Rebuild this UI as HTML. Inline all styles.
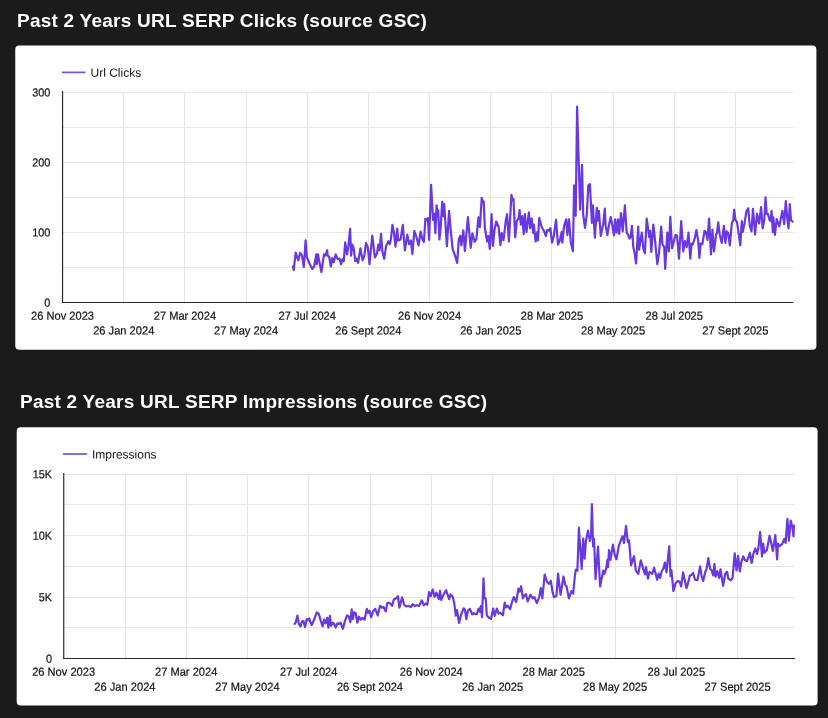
<!DOCTYPE html>
<html lang="en"><head><meta charset="utf-8"><title>URL SERP report</title>
<style>
html,body{margin:0;padding:0;background:#1b1b1b;}
body{width:828px;height:718px;position:relative;overflow:hidden;font-family:"Liberation Sans",Arial,sans-serif;}
h2{position:absolute;margin:0;color:#fff;font-weight:bold;font-size:19px;line-height:22px;white-space:nowrap;letter-spacing:0.24px;}
#t1{left:17px;top:10px;}
#t2{left:20px;top:391px;}
svg{position:absolute;left:0;top:0;}
.t{font:11.7px "Liberation Sans",Arial,sans-serif;fill:#141414;stroke:#141414;stroke-width:.22px;}
.l{font:12px "Liberation Sans",Arial,sans-serif;fill:#141414;}
</style></head><body>
<h2 id="t1">Past 2 Years URL SERP Clicks (source GSC)</h2>
<h2 id="t2">Past 2 Years URL SERP Impressions (source GSC)</h2>
<svg width="828" height="718" viewBox="0 0 828 718">
<rect x="15.25" y="45.55" width="801.15" height="304.3" rx="4" ry="4" fill="#fff"/>
<rect x="16.7" y="427.25" width="800.9" height="278.25" rx="4" ry="4" fill="#fff"/>
<g id="chart1">
<line x1="62.55" y1="92.50" x2="793.5" y2="92.50" stroke="#e6e6e6" stroke-width="1"/>
<line x1="62.55" y1="127.50" x2="793.5" y2="127.50" stroke="#e6e6e6" stroke-width="1"/>
<line x1="62.55" y1="162.50" x2="793.5" y2="162.50" stroke="#e6e6e6" stroke-width="1"/>
<line x1="62.55" y1="197.50" x2="793.5" y2="197.50" stroke="#e6e6e6" stroke-width="1"/>
<line x1="62.55" y1="232.50" x2="793.5" y2="232.50" stroke="#e6e6e6" stroke-width="1"/>
<line x1="62.55" y1="267.50" x2="793.5" y2="267.50" stroke="#e6e6e6" stroke-width="1"/>
<line x1="123.50" y1="92.20" x2="123.50" y2="302.50" stroke="#e6e6e6" stroke-width="1"/>
<line x1="184.50" y1="92.20" x2="184.50" y2="302.50" stroke="#e6e6e6" stroke-width="1"/>
<line x1="246.50" y1="92.20" x2="246.50" y2="302.50" stroke="#e6e6e6" stroke-width="1"/>
<line x1="307.50" y1="92.20" x2="307.50" y2="302.50" stroke="#e6e6e6" stroke-width="1"/>
<line x1="368.50" y1="92.20" x2="368.50" y2="302.50" stroke="#e6e6e6" stroke-width="1"/>
<line x1="429.50" y1="92.20" x2="429.50" y2="302.50" stroke="#e6e6e6" stroke-width="1"/>
<line x1="490.50" y1="92.20" x2="490.50" y2="302.50" stroke="#e6e6e6" stroke-width="1"/>
<line x1="551.50" y1="92.20" x2="551.50" y2="302.50" stroke="#e6e6e6" stroke-width="1"/>
<line x1="613.50" y1="92.20" x2="613.50" y2="302.50" stroke="#e6e6e6" stroke-width="1"/>
<line x1="674.50" y1="92.20" x2="674.50" y2="302.50" stroke="#e6e6e6" stroke-width="1"/>
<line x1="735.50" y1="92.20" x2="735.50" y2="302.50" stroke="#e6e6e6" stroke-width="1"/>
<line x1="62.55" y1="91.00" x2="62.55" y2="303.10" stroke="#2b2b2b" stroke-width="1.2"/>
<line x1="61.949999999999996" y1="302.50" x2="793.5" y2="302.50" stroke="#2b2b2b" stroke-width="1.2"/>
<text transform="translate(50.4,96.40) scale(0.93,1) rotate(0.03)" text-anchor="end" class="t">300</text>
<text transform="translate(50.4,166.50) scale(0.93,1) rotate(0.03)" text-anchor="end" class="t">200</text>
<text transform="translate(50.4,236.60) scale(0.93,1) rotate(0.03)" text-anchor="end" class="t">100</text>
<text transform="translate(50.4,306.70) scale(0.93,1) rotate(0.03)" text-anchor="end" class="t">0</text>
<text transform="translate(62.55,319.7) scale(0.95,1) rotate(0.03)" text-anchor="middle" class="t">26 Nov 2023</text>
<text transform="translate(123.72,334.4) scale(0.95,1) rotate(0.03)" text-anchor="middle" class="t">26 Jan 2024</text>
<text transform="translate(184.89,319.7) scale(0.95,1) rotate(0.03)" text-anchor="middle" class="t">27 Mar 2024</text>
<text transform="translate(246.06,334.4) scale(0.95,1) rotate(0.03)" text-anchor="middle" class="t">27 May 2024</text>
<text transform="translate(307.23,319.7) scale(0.95,1) rotate(0.03)" text-anchor="middle" class="t">27 Jul 2024</text>
<text transform="translate(368.40,334.4) scale(0.95,1) rotate(0.03)" text-anchor="middle" class="t">26 Sept 2024</text>
<text transform="translate(429.57,319.7) scale(0.95,1) rotate(0.03)" text-anchor="middle" class="t">26 Nov 2024</text>
<text transform="translate(490.74,334.4) scale(0.95,1) rotate(0.03)" text-anchor="middle" class="t">26 Jan 2025</text>
<text transform="translate(551.91,319.7) scale(0.95,1) rotate(0.03)" text-anchor="middle" class="t">28 Mar 2025</text>
<text transform="translate(613.08,334.4) scale(0.95,1) rotate(0.03)" text-anchor="middle" class="t">28 May 2025</text>
<text transform="translate(674.25,319.7) scale(0.95,1) rotate(0.03)" text-anchor="middle" class="t">28 Jul 2025</text>
<text transform="translate(735.42,334.4) scale(0.95,1) rotate(0.03)" text-anchor="middle" class="t">27 Sept 2025</text>
<line x1="62" y1="72.4" x2="85.5" y2="72.4" stroke="#6839e0" stroke-width="1.7" stroke-opacity="0.9"/>
<text transform="translate(90.5,76.7) rotate(0.03)" class="l">Url Clicks</text>
<polyline fill="none" stroke="#6839e0" stroke-width="2.2" stroke-linejoin="round" stroke-linecap="round" points="292.9,266.5 293.7,270.1 295.7,252.6 298.3,260.4 300.1,252.9 302.0,255.6 303.8,267.1 305.6,240.4 306.8,256.8 309.2,262.9 312.3,268.9 314.1,266.5 316.3,254.4 316.8,264.1 318.0,254.4 319.6,262.9 321.4,272.0 324.0,254.4 325.6,255.6 327.1,250.2 327.7,255.6 329.2,256.8 330.8,266.5 332.3,258.0 333.7,262.3 335.7,254.4 337.7,259.2 339.6,258.6 341.1,264.1 342.6,259.2 343.8,261.1 345.2,242.3 347.1,254.4 348.4,245.9 350.1,228.9 351.1,255.6 352.3,244.7 353.7,248.3 355.3,261.1 356.5,258.6 358.1,262.9 360.4,248.3 362.6,260.4 364.4,255.6 366.0,242.9 367.8,247.1 369.5,264.1 372.3,235.6 374.9,257.4 377.1,253.2 378.3,244.7 379.6,250.2 381.0,233.9 382.4,251.5 384.2,258.8 386.1,246.1 388.5,241.2 389.7,244.2 390.9,239.4 392.4,224.8 393.9,232.1 395.5,246.7 397.2,228.5 398.2,240.6 400.6,239.4 402.8,224.8 404.9,250.3 407.3,234.6 409.1,244.2 410.9,240.6 412.4,253.9 414.3,230.9 416.4,237.0 418.6,245.4 420.6,231.5 422.4,239.4 423.9,241.8 425.4,218.8 426.7,220.0 427.9,218.2 429.1,240.0 431.1,184.8 433.0,220.0 434.2,213.9 435.4,233.3 436.6,205.4 437.6,216.4 438.2,210.3 439.4,239.4 440.6,228.5 442.2,201.8 443.6,216.4 444.2,204.2 446.9,246.1 449.1,210.9 450.9,232.1 452.7,249.1 455.1,255.8 457.2,263.0 458.8,239.4 460.2,235.8 461.4,245.4 463.3,230.3 464.9,250.9 467.9,217.0 470.7,247.9 472.4,233.3 474.6,241.8 476.4,239.1 478.4,217.3 479.9,227.0 481.7,197.9 482.9,202.7 483.7,201.5 484.9,228.2 487.1,241.5 488.3,236.1 489.8,248.8 491.6,214.2 492.9,245.8 494.4,230.6 496.2,221.5 498.6,227.0 500.4,245.2 501.7,233.0 503.5,240.3 505.9,219.7 507.1,214.2 508.9,241.5 511.4,194.8 512.6,200.3 513.5,199.1 515.2,237.3 516.8,220.9 518.6,218.5 519.6,210.0 520.8,224.6 522.3,216.1 523.7,234.2 524.9,214.2 526.5,231.8 528.9,212.4 530.1,228.2 531.7,218.5 533.2,233.0 533.8,224.6 535.6,241.5 537.4,231.8 538.0,240.3 539.2,217.9 541.7,227.0 544.1,231.2 545.9,236.1 547.1,230.0 548.9,230.6 550.4,228.2 552.0,242.7 553.8,236.1 556.0,219.7 558.0,244.6 559.9,240.3 561.7,231.8 562.3,242.7 564.1,225.8 566.2,219.4 567.4,235.2 569.0,219.4 570.8,242.4 572.9,251.2 574.1,185.4 575.3,186.1 575.7,215.8 577.1,106.7 580.1,209.7 582.0,164.8 583.2,214.6 585.0,227.9 586.8,214.6 588.3,185.4 589.9,184.2 591.9,223.0 592.9,205.4 594.9,237.6 596.8,207.9 597.7,220.6 598.9,210.9 600.8,235.8 603.2,224.2 604.8,208.5 605.6,225.4 607.4,235.2 608.9,225.4 610.7,217.0 612.3,225.4 613.9,235.2 615.1,219.4 616.5,232.7 618.0,219.4 619.2,233.9 621.0,213.2 622.7,231.4 624.9,205.3 626.7,232.6 628.2,235.0 629.5,238.6 630.7,236.8 631.9,225.9 633.3,247.1 634.8,254.4 636.1,263.5 638.2,226.5 639.1,249.6 640.4,241.1 641.8,232.6 643.3,248.3 644.9,253.2 646.7,218.6 648.5,231.4 649.1,236.8 650.1,230.8 651.3,252.0 653.3,224.7 654.5,235.0 655.8,248.3 657.3,264.1 659.0,253.2 661.2,226.5 662.4,244.1 664.2,247.1 665.2,268.9 667.3,232.6 668.9,251.4 670.3,216.8 672.1,248.3 673.9,241.1 675.5,235.0 677.0,235.6 679.0,258.6 681.2,221.1 683.3,251.4 684.9,241.1 686.7,247.1 688.5,232.6 690.3,258.6 691.5,243.5 692.7,244.7 694.5,239.2 696.4,230.2 698.2,240.4 699.4,258.0 700.6,243.5 702.4,244.1 704.5,230.8 706.1,232.6 707.5,239.8 709.1,218.6 711.0,254.4 712.4,229.6 714.0,251.4 716.1,234.4 717.0,233.2 718.2,222.3 719.7,234.4 721.8,242.9 723.9,225.9 725.4,242.9 726.7,231.4 728.2,233.2 729.8,245.3 731.8,223.5 733.3,219.8 734.2,209.6 735.5,220.4 736.9,221.7 738.5,232.0 740.3,245.3 741.8,221.1 742.7,232.0 744.5,223.5 746.4,211.4 748.2,208.3 749.8,225.9 751.5,231.4 753.0,208.9 755.1,234.4 757.0,213.8 759.1,223.5 761.1,207.1 762.7,228.3 764.3,219.8 765.5,197.4 766.7,213.8 767.9,213.8 769.4,219.8 770.6,221.1 771.6,210.8 772.8,232.0 773.3,217.4 774.9,235.0 776.7,219.2 779.3,226.5 782.4,210.8 784.2,224.1 785.8,201.1 787.2,217.4 788.5,228.3 789.8,204.1 791.0,220.4 792.7,221.7"/>
</g>
<g id="chart2">
<line x1="63.73" y1="474.50" x2="795.0" y2="474.50" stroke="#e6e6e6" stroke-width="1"/>
<line x1="63.73" y1="504.50" x2="795.0" y2="504.50" stroke="#e6e6e6" stroke-width="1"/>
<line x1="63.73" y1="535.50" x2="795.0" y2="535.50" stroke="#e6e6e6" stroke-width="1"/>
<line x1="63.73" y1="566.50" x2="795.0" y2="566.50" stroke="#e6e6e6" stroke-width="1"/>
<line x1="63.73" y1="597.50" x2="795.0" y2="597.50" stroke="#e6e6e6" stroke-width="1"/>
<line x1="63.73" y1="627.50" x2="795.0" y2="627.50" stroke="#e6e6e6" stroke-width="1"/>
<line x1="125.50" y1="474.10" x2="125.50" y2="658.50" stroke="#e6e6e6" stroke-width="1"/>
<line x1="186.50" y1="474.10" x2="186.50" y2="658.50" stroke="#e6e6e6" stroke-width="1"/>
<line x1="247.50" y1="474.10" x2="247.50" y2="658.50" stroke="#e6e6e6" stroke-width="1"/>
<line x1="308.50" y1="474.10" x2="308.50" y2="658.50" stroke="#e6e6e6" stroke-width="1"/>
<line x1="370.50" y1="474.10" x2="370.50" y2="658.50" stroke="#e6e6e6" stroke-width="1"/>
<line x1="431.50" y1="474.10" x2="431.50" y2="658.50" stroke="#e6e6e6" stroke-width="1"/>
<line x1="492.50" y1="474.10" x2="492.50" y2="658.50" stroke="#e6e6e6" stroke-width="1"/>
<line x1="553.50" y1="474.10" x2="553.50" y2="658.50" stroke="#e6e6e6" stroke-width="1"/>
<line x1="615.50" y1="474.10" x2="615.50" y2="658.50" stroke="#e6e6e6" stroke-width="1"/>
<line x1="676.50" y1="474.10" x2="676.50" y2="658.50" stroke="#e6e6e6" stroke-width="1"/>
<line x1="737.50" y1="474.10" x2="737.50" y2="658.50" stroke="#e6e6e6" stroke-width="1"/>
<line x1="63.73" y1="472.90" x2="63.73" y2="659.10" stroke="#2b2b2b" stroke-width="1.2"/>
<line x1="63.129999999999995" y1="658.50" x2="795.0" y2="658.50" stroke="#2b2b2b" stroke-width="1.2"/>
<text transform="translate(52,478.30) scale(0.93,1) rotate(0.03)" text-anchor="end" class="t">15K</text>
<text transform="translate(52,539.77) scale(0.93,1) rotate(0.03)" text-anchor="end" class="t">10K</text>
<text transform="translate(52,601.23) scale(0.93,1) rotate(0.03)" text-anchor="end" class="t">5K</text>
<text transform="translate(52,662.70) scale(0.93,1) rotate(0.03)" text-anchor="end" class="t">0</text>
<text transform="translate(63.63,675.8) scale(0.95,1) rotate(0.03)" text-anchor="middle" class="t">26 Nov 2023</text>
<text transform="translate(124.90,690.8) scale(0.95,1) rotate(0.03)" text-anchor="middle" class="t">26 Jan 2024</text>
<text transform="translate(186.17,675.8) scale(0.95,1) rotate(0.03)" text-anchor="middle" class="t">27 Mar 2024</text>
<text transform="translate(247.44,690.8) scale(0.95,1) rotate(0.03)" text-anchor="middle" class="t">27 May 2024</text>
<text transform="translate(308.71,675.8) scale(0.95,1) rotate(0.03)" text-anchor="middle" class="t">27 Jul 2024</text>
<text transform="translate(369.98,690.8) scale(0.95,1) rotate(0.03)" text-anchor="middle" class="t">26 Sept 2024</text>
<text transform="translate(431.25,675.8) scale(0.95,1) rotate(0.03)" text-anchor="middle" class="t">26 Nov 2024</text>
<text transform="translate(492.52,690.8) scale(0.95,1) rotate(0.03)" text-anchor="middle" class="t">26 Jan 2025</text>
<text transform="translate(553.79,675.8) scale(0.95,1) rotate(0.03)" text-anchor="middle" class="t">28 Mar 2025</text>
<text transform="translate(615.06,690.8) scale(0.95,1) rotate(0.03)" text-anchor="middle" class="t">28 May 2025</text>
<text transform="translate(676.33,675.8) scale(0.95,1) rotate(0.03)" text-anchor="middle" class="t">28 Jul 2025</text>
<text transform="translate(737.60,690.8) scale(0.95,1) rotate(0.03)" text-anchor="middle" class="t">27 Sept 2025</text>
<line x1="63" y1="454" x2="87" y2="454" stroke="#6839e0" stroke-width="1.7" stroke-opacity="0.9"/>
<text transform="translate(91.9,458.4) rotate(0.03)" class="l">Impressions</text>
<polyline fill="none" stroke="#6839e0" stroke-width="2.2" stroke-linejoin="round" stroke-linecap="round" points="294.7,623.9 295.9,622.1 297.4,615.5 298.9,623.9 300.5,626.4 302.0,621.5 303.4,620.9 305.0,627.0 306.8,619.1 308.0,620.3 309.2,618.5 311.7,625.1 314.1,619.7 316.8,612.4 318.9,614.2 320.8,620.9 322.6,626.4 324.0,619.7 325.6,623.3 327.2,617.9 328.4,627.6 329.9,615.8 331.1,625.8 332.9,622.7 334.1,623.9 335.7,627.6 337.4,623.3 338.9,623.9 340.5,622.7 342.9,628.8 345.0,620.9 347.1,615.5 348.9,616.7 350.4,622.1 351.7,609.4 352.9,619.1 354.1,612.4 355.6,613.0 357.4,622.7 358.9,616.7 360.8,619.7 362.6,617.9 364.6,619.7 366.8,608.8 368.0,613.0 369.5,610.6 371.1,617.3 373.1,611.2 375.3,608.8 377.7,615.5 380.1,605.8 382.0,607.6 383.6,607.1 385.8,611.4 387.3,602.9 389.7,602.9 392.1,605.9 393.9,599.2 395.8,598.6 397.9,596.2 399.4,607.7 402.1,597.4 404.2,604.7 406.1,606.5 408.5,605.9 410.9,607.1 412.7,604.1 414.6,605.9 417.0,605.3 419.0,605.9 421.8,600.5 423.9,605.3 425.8,603.5 427.3,604.7 429.1,592.0 430.7,596.2 432.7,589.5 434.6,596.8 436.4,592.6 438.8,599.2 440.0,590.8 441.2,599.9 443.6,594.4 446.1,590.1 449.1,599.2 450.6,594.4 452.7,596.8 454.2,602.9 455.8,615.6 457.0,610.1 459.0,622.9 461.2,614.4 463.6,608.3 464.9,609.5 466.3,619.2 467.9,610.8 469.9,608.9 472.1,614.4 473.9,613.2 475.0,614.1 476.8,614.1 478.6,608.6 479.9,611.7 480.8,606.2 482.0,617.1 483.5,578.3 484.4,598.3 485.7,598.3 486.8,615.3 488.9,617.7 491.0,618.9 493.2,608.6 494.6,615.9 496.8,608.6 498.6,613.5 500.4,612.9 502.9,615.3 504.7,602.6 505.9,607.4 507.7,605.6 510.1,609.2 512.0,602.0 513.8,597.1 516.2,602.0 518.4,588.6 519.6,591.7 521.1,586.2 522.9,598.3 524.5,595.3 525.9,594.1 527.7,601.4 530.5,594.7 532.6,598.3 534.4,597.1 536.8,603.2 539.2,597.1 540.8,588.0 542.3,598.3 544.7,574.7 547.1,582.0 548.9,583.8 550.8,580.8 552.6,592.3 554.0,597.1 556.5,595.9 558.0,573.5 560.5,594.7 563.5,576.5 565.3,585.0 566.5,586.2 568.9,598.3 571.4,591.1 573.2,593.5 574.9,575.6 575.9,569.5 577.4,570.7 578.9,527.7 581.7,568.9 583.2,538.6 584.6,558.6 585.9,541.0 588.0,530.7 589.9,541.0 591.1,534.4 591.9,504.1 593.1,546.5 594.1,539.2 595.5,579.2 598.0,546.5 600.1,586.5 603.2,570.7 604.4,573.8 606.2,568.3 607.4,559.8 608.0,567.1 609.0,550.1 610.5,559.8 612.9,544.7 614.7,555.0 616.5,559.2 618.9,545.3 620.8,540.4 622.6,536.2 624.0,542.9 626.0,525.9 627.8,542.2 629.0,540.4 631.1,565.3 633.9,556.2 635.9,570.7 638.3,573.8 640.8,560.4 643.2,568.9 645.0,574.4 646.0,567.1 648.0,578.6 649.5,571.9 652.3,573.8 654.1,567.7 657.2,579.7 658.6,573.6 660.1,577.9 661.7,571.2 663.5,568.2 664.9,562.5 666.5,572.4 669.2,546.4 670.5,576.1 671.4,570.0 673.4,591.2 675.6,583.3 678.0,580.9 679.9,582.1 681.1,586.4 683.1,572.4 684.7,579.7 686.5,588.2 688.3,582.1 689.9,575.5 691.4,574.9 693.2,573.0 695.0,579.7 697.4,580.3 700.1,566.4 701.7,576.7 703.2,580.9 705.3,571.8 706.5,569.4 708.3,558.1 710.1,568.8 711.4,570.0 713.2,575.5 714.4,563.9 715.6,576.7 717.4,571.2 719.2,577.9 720.5,569.4 723.1,585.8 725.3,573.6 727.1,571.8 728.3,578.5 730.8,580.3 732.6,577.9 734.7,553.3 736.5,570.3 738.1,555.8 739.8,571.5 741.4,561.8 743.2,556.4 745.0,560.0 746.8,561.2 748.6,557.0 749.9,552.7 751.7,563.0 753.5,553.3 755.3,548.5 757.1,553.9 758.3,548.5 760.1,532.1 762.0,556.4 763.2,543.6 764.4,552.7 766.8,550.3 769.6,535.8 772.9,550.9 775.3,535.1 777.1,559.4 778.0,543.6 779.5,546.1 782.0,544.2 784.4,538.8 785.6,543.0 787.4,518.8 788.9,540.6 790.7,520.6 792.3,526.7 793.5,536.4 793.9,525.5"/>
</g>
</svg>
</body></html>
